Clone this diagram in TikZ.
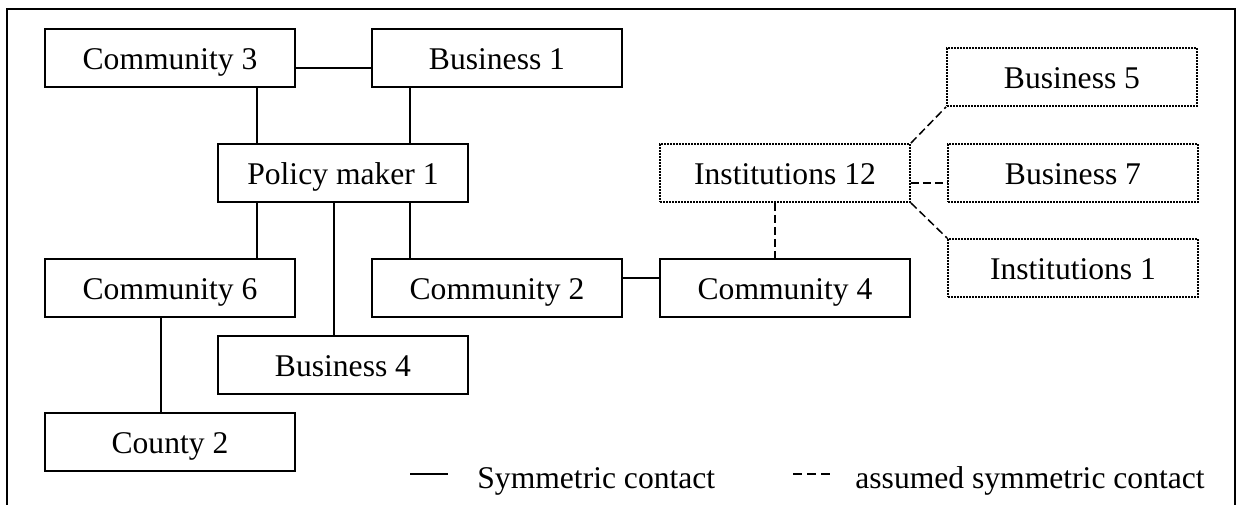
\documentclass[tikz,border=0pt]{standalone}
\usepackage{fontspec}
\setmainfont{Liberation Serif}
\usetikzlibrary{calc}
\tikzset{
  boxbase/.style={rectangle, minimum width=125pt, minimum height=29pt, inner sep=0pt,
    text height=11pt, text depth=0pt, font=\fontsize{15.8}{19}\selectfont},
  solidbox/.style={boxbase, draw, line width=0.75pt},
  dotbox/.style={boxbase, draw, line width=0.9pt, dash pattern=on 0.8pt off 0.7pt},
  link/.style={line width=0.75pt},
  dlink/.style={line width=0.75pt, dash pattern=on 4pt off 2pt},
  legtext/.style={anchor=base west, inner sep=0pt, font=\fontsize{15.8}{19}\selectfont}
}
\begin{document}
\begin{tikzpicture}[x=0.5pt,y=-0.5pt]
\useasboundingbox (0,0) rectangle (1238,504);
% frame
\draw[line width=1pt] (7,508) -- (7,9) -- (1235,9) -- (1235,508);
% nodes
\node[solidbox] (c3)  at (170,58)   {Community 3};
\node[solidbox] (b1)  at (497,58)   {Business 1};
\node[solidbox] (pm)  at (343,173)  {Policy maker 1};
\node[solidbox] (c6)  at (170,288)  {Community 6};
\node[solidbox] (c2)  at (497,288)  {Community 2};
\node[solidbox] (b4)  at (343,365)  {Business 4};
\node[solidbox] (cy2) at (170,442)  {County 2};
\node[solidbox] (c4)  at (785,288)  {Community 4};
\node[dotbox]   (i12) at (785,173)  {Institutions 12};
\node[dotbox]   (b5)  at (1072,77)  {Business 5};
\node[dotbox]   (b7)  at (1073,173) {Business 7};
\node[dotbox]   (i1)  at (1073,268) {Institutions 1};
% solid connectors
\draw[link] ([yshift=-5pt]c3.east) -- ([yshift=-5pt]c3.east -| b1.west);
\draw[link] ([xshift=43.5pt]c3.south) -- ([xshift=43.5pt]c3.south |- pm.north);
\draw[link] ([xshift=-43.5pt]b1.south) -- ([xshift=-43.5pt]b1.south |- pm.north);
\draw[link] ([xshift=-43pt]pm.south) -- ([xshift=-43pt]pm.south |- c6.north);
\draw[link] ([xshift=-4.5pt]pm.south) -- ([xshift=-4.5pt]pm.south |- b4.north);
\draw[link] ([xshift=33.5pt]pm.south) -- ([xshift=33.5pt]pm.south |- c2.north);
\draw[link] ([xshift=-4.5pt]c6.south) -- ([xshift=-4.5pt]c6.south |- cy2.north);
\draw[link] ([yshift=5pt]c2.east) -- ([yshift=5pt]c2.east -| c4.west);
% dashed connectors
\draw[dlink] ([xshift=-5pt]i12.south) -- ([xshift=-5pt]i12.south |- c4.north);
\draw[dlink] ([yshift=-5pt]i12.east) -- ([yshift=-5pt]i12.east -| b7.west);
\draw[dlink] (i12.north east) -- (b5.south west);
\draw[dlink] (i12.south east) -- (i1.north west);
% legend
\coordinate (ls1) at (410,474);
\coordinate (ls2) at (448,474);
\coordinate (ld1) at (793,474);
\coordinate (ld2) at (830,474);
\draw[line width=0.6pt] (ls1) -- (ls2);
\draw[line width=0.6pt, dash pattern=on 4.5pt off 2.5pt] (ld1) -- (ld2);
\node[legtext] (lt1) at (477,488) {Symmetric contact};
\node[legtext] (lt2) at (855,488) {assumed symmetric contact};
\end{tikzpicture}
\end{document}
